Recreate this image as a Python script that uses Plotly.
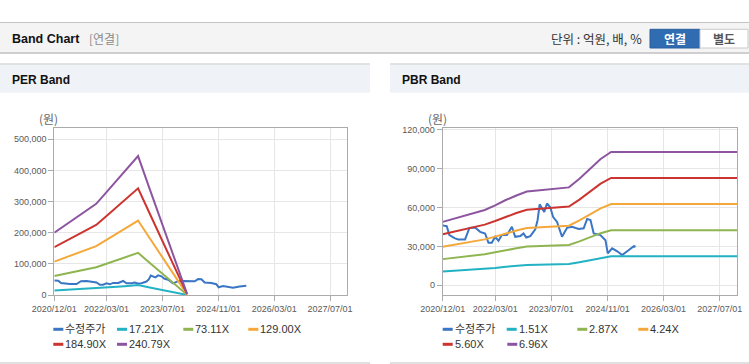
import plotly.graph_objects as go

W, H = 749, 364

# ---------------- data ----------------
x_tick_vals = ["2020-12-01", "2022-03-01", "2023-07-01", "2024-11-01", "2026-03-01", "2027-07-01"]
x_tick_text = ["2020/12/01", "2022/03/01", "2023/07/01", "2024/11/01", "2026/03/01", "2027/07/01"]

price_dates = ["2020-12-01", "2021-01-05", "2021-01-28", "2021-03-18", "2021-04-16", "2021-06-13",
               "2021-07-21", "2021-09-08", "2021-10-22", "2021-12-04", "2022-01-02", "2022-01-31",
               "2022-03-01", "2022-03-30", "2022-04-28", "2022-06-11", "2022-07-24", "2022-08-22",
               "2022-10-05", "2022-11-02", "2022-11-26", "2022-12-31", "2023-02-12", "2023-03-04",
               "2023-03-22", "2023-04-11", "2023-05-01", "2023-05-25", "2023-06-23", "2023-07-16",
               "2023-08-20", "2023-10-02", "2023-11-15", "2023-12-28", "2024-01-26", "2024-02-24",
               "2024-04-07", "2024-05-07", "2024-06-05", "2024-07-03", "2024-08-30", "2024-10-13",
               "2024-11-02", "2024-12-10", "2025-01-23", "2025-03-07", "2025-05-04", "2025-06-16",
               "2025-07-01"]
price = [46200, 45600, 38700, 36200, 35400, 35400,
         44300, 44600, 41200, 40000, 32800, 32800,
         37400, 34300, 38700, 38700, 45100, 37400,
         38000, 40000, 36900, 37900, 43100, 50200,
         62500, 59200, 56600, 63100, 60000, 52800,
         48900, 37400, 44300, 45100, 44300, 43500,
         44000, 51200, 50300, 40000, 38700, 34800,
         24600, 28500, 26200, 23300, 27200, 30200,
         29700]

per_dates = ["2020-12-01", "2021-03-01", "2021-06-01", "2021-09-01", "2021-12-01", "2022-03-01",
             "2022-06-01", "2022-09-01", "2022-12-01", "2023-03-01", "2023-06-01", "2023-09-01",
             "2023-12-01", "2024-02-01"]
per_1721 = [14280, 15920, 17550, 19280, 20910, 23580, 26330, 29080, 31870, 25160, 18290, 11430, 4630, 260]
per_7311 = [60680, 67630, 74570, 81880, 88830, 100160, 111860, 123560, 135400, 106890, 77720, 48540, 19670, 1100]
per_12900 = [107070, 119330, 131580, 144480, 156740, 176730, 197370, 218010, 238910, 188600, 137130, 85660, 34700, 1940]
per_18490 = [153470, 171030, 188600, 207090, 224650, 253310, 282900, 312480, 342430, 270320, 196550, 122770, 49740, 2770]
per_24079 = [199860, 222730, 245610, 269680, 292560, 329880, 368410, 406940, 445940, 352040, 255960, 159880, 64770, 3610]

pbr_dates = ["2020-12-01", "2021-03-01", "2021-06-01", "2021-09-01", "2021-12-01", "2022-03-01",
             "2022-06-01", "2022-09-01", "2022-12-01", "2023-03-01", "2023-06-01", "2023-09-01",
             "2023-12-01", "2024-03-01", "2024-06-01", "2024-09-01", "2024-12-01", "2027-12-01"]
pbr_151 = [10620, 11100, 11550, 12000, 12610, 13360, 14270, 15020, 15700, 15860, 16010, 16160, 16380, 17820, 19480, 21140, 22320, 22320]
pbr_287 = [20180, 21090, 21960, 22820, 23960, 25400, 27120, 28560, 29850, 30140, 30420, 30710, 31140, 33870, 37020, 40180, 42420, 42420]
pbr_424 = [29810, 31160, 32440, 33710, 35400, 37520, 40070, 42190, 44100, 44520, 44940, 45370, 46000, 50030, 54700, 59360, 62670, 62670]
pbr_560 = [39370, 41160, 42840, 44520, 46760, 49560, 52920, 55720, 58240, 58800, 59360, 59920, 60760, 66080, 72240, 78400, 82770, 82770]
pbr_696 = [48930, 51160, 53240, 55330, 58120, 61600, 65770, 69250, 72380, 73080, 73780, 74470, 75520, 82130, 89780, 97440, 102870, 102870]

per_names = ["수정주가", "17.21X", "73.11X", "129.00X", "184.90X", "240.79X"]
pbr_names = ["수정주가", "1.51X", "2.87X", "4.24X", "5.60X", "6.96X"]
per_ticks = [0, 100000, 200000, 300000, 400000, 500000]
pbr_ticks = [0, 30000, 60000, 90000, 120000]

# ---------------- styles ----------------
colors = ["#3a76c4", "#22b2c4", "#8fb551", "#f4a83a", "#cc3430", "#8d55a0"]
KR = "Noto Sans CJK KR"
LAT = "Liberation Sans"


def px(x):
    return x / W


def py(y):
    return 1 - y / H


fig = go.Figure()

per_series = [per_1721, per_7311, per_12900, per_18490, per_24079]
pbr_series = [pbr_151, pbr_287, pbr_424, pbr_560, pbr_696]

fig.add_trace(go.Scatter(x=price_dates, y=price, mode="lines", name=per_names[0],
                         line=dict(color=colors[0], width=2), xaxis="x", yaxis="y", showlegend=False))
for i, s in enumerate(per_series):
    fig.add_trace(go.Scatter(x=per_dates, y=s, mode="lines", name=per_names[i + 1],
                             line=dict(color=colors[i + 1], width=2), xaxis="x", yaxis="y", showlegend=False))

fig.add_trace(go.Scatter(x=price_dates, y=price, mode="lines", name=pbr_names[0],
                         line=dict(color=colors[0], width=2), xaxis="x2", yaxis="y2", showlegend=False))
for i, s in enumerate(pbr_series):
    fig.add_trace(go.Scatter(x=pbr_dates, y=s, mode="lines", name=pbr_names[i + 1],
                             line=dict(color=colors[i + 1], width=2), xaxis="x2", yaxis="y2", showlegend=False))

x_range = ["2020-12-01", "2027-11-28"]
axis_common = dict(showline=True, linecolor="#ababab", linewidth=1, mirror=True,
                   showgrid=True, gridcolor="#e6e6e6", gridwidth=1, zeroline=False,
                   ticks="outside", ticklen=5, tickcolor="#ababab", automargin=False,
                   tickfont=dict(family=LAT, size=9, color="#5a5a5a"))

plot_top, plot_bot = 128.3, 295.0

fig.update_layout(
    template="none",
    width=W, height=H, margin=dict(l=0, r=0, t=0, b=0, pad=0), autosize=False,
    paper_bgcolor="#ffffff", plot_bgcolor="#ffffff", showlegend=False,
    xaxis=dict(domain=[px(54.3), px(347.3)], anchor="y", type="date", range=x_range,
               tickmode="array", tickvals=x_tick_vals, ticktext=x_tick_text, **axis_common),
    yaxis=dict(domain=[py(plot_bot), py(plot_top)], anchor="x", range=[0, 535000],
               tickmode="array", tickvals=per_ticks, tickformat=",d", **axis_common),
    xaxis2=dict(domain=[px(442.7), px(737.0)], anchor="y2", type="date", range=x_range,
                tickmode="array", tickvals=x_tick_vals, ticktext=x_tick_text, **axis_common),
    yaxis2=dict(domain=[py(plot_bot), py(plot_top)], anchor="x2", range=[-7500, 121100],
                tickmode="array", tickvals=pbr_ticks, tickformat=",d", **axis_common),
)

shapes = []
annotations = []

# page header
shapes.append(dict(type="rect", xref="paper", yref="paper", x0=0, x1=1, y0=py(52.5), y1=py(22.5),
                   fillcolor="#f4f4f4", line=dict(width=0), layer="below"))
shapes.append(dict(type="line", xref="paper", yref="paper", x0=0, x1=1, y0=py(22.5), y1=py(22.5),
                   line=dict(color="#c4c4c4", width=1)))
shapes.append(dict(type="line", xref="paper", yref="paper", x0=0, x1=1, y0=py(53), y1=py(53),
                   line=dict(color="#cfcfcf", width=2)))
annotations.append(dict(text="<b>Band Chart</b>", x=px(10), y=py(39), xref="paper", yref="paper",
                        xanchor="left", yanchor="middle", showarrow=False,
                        font=dict(family=LAT, size=12.5, color="#111111")))
annotations.append(dict(text="[연결]", x=px(87), y=py(39), xref="paper", yref="paper",
                        xanchor="left", yanchor="middle", showarrow=False,
                        font=dict(family=KR, size=12, color="#8a8a8a")))
annotations.append(dict(text="단위 : 억원, 배, %", x=px(644), y=py(39), xref="paper", yref="paper",
                        xanchor="right", yanchor="middle", showarrow=False,
                        font=dict(family=KR, size=12.5, color="#333333")))
# buttons
shapes.append(dict(type="rect", xref="paper", yref="paper", x0=px(650), x1=px(700), y0=py(48), y1=py(29.3),
                   fillcolor="#2f6cb2", line=dict(color="#2a5e9c", width=1)))
shapes.append(dict(type="rect", xref="paper", yref="paper", x0=px(700), x1=px(748), y0=py(48), y1=py(29.3),
                   fillcolor="#ffffff", line=dict(color="#c8c8c8", width=1)))
annotations.append(dict(text="<b>연결</b>", x=px(675), y=py(38.7), xref="paper", yref="paper",
                        xanchor="center", yanchor="middle", showarrow=False,
                        font=dict(family=KR, size=12, color="#ffffff")))
annotations.append(dict(text="<b>별도</b>", x=px(724), y=py(38.7), xref="paper", yref="paper",
                        xanchor="center", yanchor="middle", showarrow=False,
                        font=dict(family=KR, size=12, color="#555555")))

# panels
for (x0, x1, title) in [(0, 370, "PER Band"), (390, 749, "PBR Band")]:
    shapes.append(dict(type="rect", xref="paper", yref="paper", x0=px(x0), x1=px(x1), y0=py(92.7), y1=py(64.5),
                       fillcolor="#eff3f8", line=dict(width=0), layer="below"))
    shapes.append(dict(type="line", xref="paper", yref="paper", x0=px(x0), x1=px(x1), y0=py(64), y1=py(64),
                       line=dict(color="#d9d9d9", width=1.5)))
    shapes.append(dict(type="line", xref="paper", yref="paper", x0=px(x0), x1=px(x1), y0=py(363), y1=py(363),
                       line=dict(color="#d6d6d6", width=1.5)))
    annotations.append(dict(text="<b>" + title + "</b>", x=px(x0 + 10), y=py(80), xref="paper", yref="paper",
                            xanchor="left", yanchor="middle", showarrow=False,
                            font=dict(family=LAT, size=12, color="#111111")))

# unit labels
for xc in [49, 437.5]:
    annotations.append(dict(text="(원)", x=px(xc), y=py(118.3), xref="paper", yref="paper",
                            xanchor="center", yanchor="middle", showarrow=False,
                            font=dict(family=KR, size=12, color="#666666")))

# legends
per_leg = [(53.3, 329.3), (117, 329.3), (183.3, 329.3), (248.3, 329.3), (53.3, 344.3), (117, 344.3)]
pbr_leg = [(442.7, 329.3), (506.7, 329.3), (577.3, 329.3), (638.3, 329.3), (442.7, 344.3), (507.3, 344.3)]
for names, pos in [(per_names, per_leg), (pbr_names, pbr_leg)]:
    for i, (name, (lx, ly)) in enumerate(zip(names, pos)):
        shapes.append(dict(type="line", xref="paper", yref="paper", x0=px(lx), x1=px(lx + 10),
                           y0=py(ly), y1=py(ly), line=dict(color=colors[i], width=3)))
        annotations.append(dict(text=name, x=px(lx + 10), y=py(ly), xref="paper", yref="paper",
                                xanchor="left", yanchor="middle", showarrow=False,
                                font=dict(family=LAT + ", " + KR, size=11, color="#333333")))

fig.update_layout(shapes=shapes, annotations=annotations)

fig.write_html("out.html", config={"displayModeBar": False},
               post_script="document.body.style.margin='0px';document.body.style.padding='0px';")
